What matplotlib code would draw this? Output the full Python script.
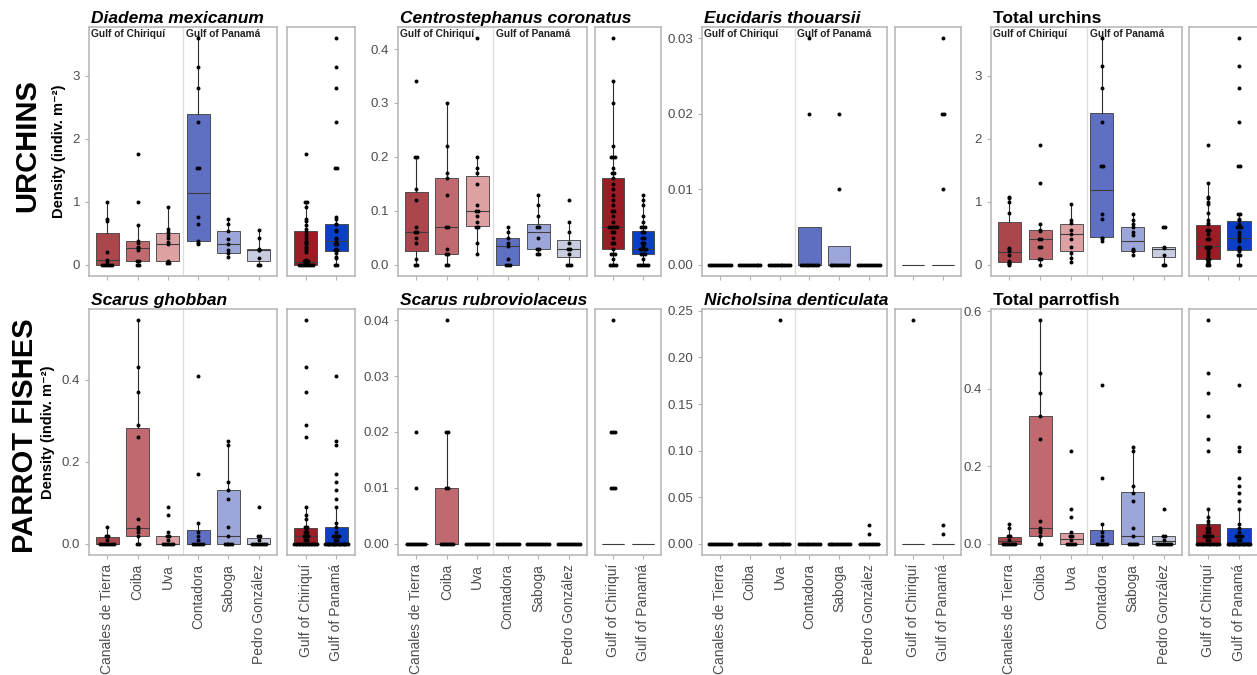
import matplotlib
matplotlib.use("Agg")
import matplotlib.pyplot as plt
import numpy as np

plt.rcParams["font.family"] = ["Liberation Sans", "DejaVu Sans"]

# ---------------------------------------------------------------- categories
sites = ["Canales de Tierra", "Coiba", "Uva", "Contadora", "Saboga", "Pedro González"]
gulfs = ["Gulf of Chiriquí", "Gulf of Panamá"]
site_colors = ["#a9474d", "#c06a70", "#dda1a4", "#5f6fc2", "#9da6d8", "#c8cce0"]
gulf_colors = ["#9c1c26", "#0b3fc6"]

# ---------------------------------------------------------------- observations (indiv. m-2) per site
diadema_obs = [
    [0.99, 0.72, 0.70, 0.20, 0.07, 0.05, 0, 0, 0, 0, 0, 0],
    [1.76, 0.99, 0.63, 0.37, 0.35, 0.28, 0.26, 0.24, 0.065, 0.065, 0, 0],
    [0.92, 0.56, 0.52, 0.47, 0.42, 0.36, 0.33, 0.065, 0.04, 0.02, 0.02],
    [3.59, 3.13, 2.81, 2.26, 1.54, 1.54, 0.76, 0.65, 0.37, 0.35, 0.33],
    [0.73, 0.64, 0.53, 0.40, 0.33, 0.24, 0.19, 0.12],
    [0.55, 0.42, 0.25, 0.24, 0.23, 0.11, 0, 0],
]
centro_obs = [
    [0.34, 0.20, 0.20, 0.14, 0.12, 0.07, 0.06, 0.06, 0.05, 0.04, 0.01, 0, 0],
    [0.30, 0.22, 0.17, 0.16, 0.13, 0.07, 0.07, 0.03, 0.02, 0.02, 0, 0],
    [0.42, 0.20, 0.18, 0.17, 0.15, 0.11, 0.10, 0.10, 0.09, 0.08, 0.07, 0.07, 0.04, 0.02],
    [0.07, 0.06, 0.05, 0.04, 0.035, 0.01, 0, 0, 0],
    [0.13, 0.11, 0.09, 0.07, 0.07, 0.05, 0.03, 0.03, 0.02, 0.02],
    [0.12, 0.08, 0.06, 0.04, 0.03, 0.03, 0.02, 0, 0, 0],
]
eucidaris_obs = [
    [0] * 12,
    [0] * 12,
    [0] * 12,
    [0.03, 0.02] + [0] * 10,
    [0.02, 0.01] + [0] * 10,
    [0] * 12,
]
urchins_obs = [
    [1.07, 1.06, 0.99, 0.82, 0.27, 0.25, 0.22, 0.15, 0.06, 0.03, 0.02, 0.01, 0],
    [1.90, 1.29, 0.65, 0.55, 0.53, 0.41, 0.41, 0.28, 0.28, 0.09, 0.09, 0],
    [0.96, 0.71, 0.66, 0.55, 0.48, 0.40, 0.28, 0.18, 0.11, 0.05],
    [3.59, 3.15, 2.80, 2.27, 1.57, 1.57, 0.80, 0.72, 0.43, 0.42, 0.37],
    [0.80, 0.71, 0.65, 0.59, 0.52, 0.47, 0.25, 0.24, 0.22, 0.16],
    [0.59, 0.59, 0.28, 0.27, 0.16, 0, 0],
]
ghobban_obs = [
    [0.04, 0.018, 0.018, 0.01] + [0] * 8,
    [0.545, 0.43, 0.37, 0.29, 0.26, 0.06, 0.04, 0.035, 0.03, 0.02, 0, 0],
    [0.09, 0.07, 0.03, 0.02, 0.02, 0.01] + [0] * 6,
    [0.41, 0.17, 0.05, 0.03, 0.02, 0.01] + [0] * 6,
    [0.25, 0.24, 0.15, 0.13, 0.11, 0.04, 0.02] + [0] * 5,
    [0.09, 0.02, 0.02, 0.01] + [0] * 8,
]
rubro_obs = [
    [0.02, 0.01] + [0] * 10,
    [0.04, 0.02, 0.02, 0.01, 0.01] + [0] * 7,
    [0] * 12,
    [0] * 12,
    [0] * 12,
    [0] * 12,
]
nicholsina_obs = [
    [0] * 12,
    [0] * 12,
    [0.24] + [0] * 11,
    [0] * 12,
    [0] * 12,
    [0.02, 0.01] + [0] * 10,
]
parrot_obs = [
    [0.05, 0.04, 0.02, 0.02, 0.01] + [0] * 7,
    [0.577, 0.44, 0.39, 0.33, 0.27, 0.06, 0.04, 0.035, 0.03, 0.02, 0, 0],
    [0.24, 0.09, 0.07, 0.03, 0.02, 0.02, 0.01] + [0] * 5,
    [0.41, 0.17, 0.05, 0.03, 0.02, 0.01] + [0] * 6,
    [0.25, 0.24, 0.15, 0.13, 0.11, 0.04, 0.02] + [0] * 5,
    [0.09, 0.02, 0.02, 0.01] + [0] * 8,
]

# ---------------------------------------------------------------- box summaries (whislo, q1, median, q3, whishi)
diadema_site_box = [(0, 0, 0.08, 0.51, 0.99), (0, 0.065, 0.26, 0.37, 0.63), (0.02, 0.065, 0.33, 0.51, 0.92),
                    (0.33, 0.37, 1.14, 2.39, 3.59), (0.12, 0.19, 0.33, 0.53, 0.73), (0, 0.065, 0.23, 0.245, 0.55)]
diadema_gulf_box = [(0, 0, 0.05, 0.54, 0.99), (0, 0.21, 0.37, 0.64, 0.75)]
centro_site_box = [(0, 0.025, 0.06, 0.135, 0.20), (0, 0.02, 0.07, 0.16, 0.30), (0.02, 0.072, 0.10, 0.165, 0.20),
                   (0, 0, 0.035, 0.05, 0.07), (0.02, 0.03, 0.06, 0.075, 0.13), (0, 0.015, 0.03, 0.045, 0.08)]
centro_gulf_box = [(0, 0.03, 0.07, 0.16, 0.34), (0, 0.02, 0.03, 0.062, 0.13)]
eucidaris_site_box = [(0, 0, 0, 0, 0), (0, 0, 0, 0, 0), (0, 0, 0, 0, 0),
                      (0, 0, 0, 0.005, 0.005), (0, 0, 0, 0.0025, 0.0025), (0, 0, 0, 0, 0)]
eucidaris_gulf_box = [(0, 0, 0, 0, 0), (0, 0, 0, 0, 0)]
urchins_site_box = [(0, 0.04, 0.20, 0.68, 1.07), (0, 0.09, 0.41, 0.55, 0.65), (0.05, 0.21, 0.48, 0.64, 0.96),
                    (0.37, 0.44, 1.19, 2.41, 3.59), (0.16, 0.22, 0.37, 0.59, 0.80), (0, 0.12, 0.25, 0.28, 0.28)]
urchins_gulf_box = [(0, 0.09, 0.29, 0.63, 1.29), (0, 0.24, 0.43, 0.70, 0.80)]
ghobban_site_box = [(0, 0, 0, 0.016, 0.04), (0, 0.019, 0.039, 0.283, 0.545), (0, 0, 0, 0.02, 0.03),
                    (0, 0, 0, 0.034, 0.05), (0, 0, 0.02, 0.131, 0.246), (0, 0, 0, 0.014, 0.02)]
ghobban_gulf_box = [(0, 0, 0.02, 0.039, 0.09), (0, 0, 0, 0.04, 0.09)]
rubro_site_box = [(0, 0, 0, 0, 0), (0, 0, 0, 0.01, 0.02), (0, 0, 0, 0, 0),
                  (0, 0, 0, 0, 0), (0, 0, 0, 0, 0), (0, 0, 0, 0, 0)]
rubro_gulf_box = [(0, 0, 0, 0, 0), (0, 0, 0, 0, 0)]
nicholsina_site_box = [(0, 0, 0, 0, 0)] * 6
nicholsina_gulf_box = [(0, 0, 0, 0, 0), (0, 0, 0, 0, 0)]
parrot_site_box = [(0, 0, 0.007, 0.017, 0.05), (0, 0.019, 0.042, 0.33, 0.577), (0, 0, 0.013, 0.029, 0.029),
                   (0, 0, 0, 0.035, 0.05), (0, 0, 0.02, 0.134, 0.25), (0, 0, 0.007, 0.02, 0.02)]
parrot_gulf_box = [(0, 0, 0.02, 0.052, 0.09), (0, 0, 0, 0.04, 0.09)]

# panel settings: title, italic, observations, boxes, y ticks, tick format, zeros drawn in gulf panel
panels = [
    ("Diadema mexicanum", True, diadema_obs, diadema_site_box, diadema_gulf_box, [0, 1, 2, 3], "{:.0f}", True),
    ("Centrostephanus coronatus", True, centro_obs, centro_site_box, centro_gulf_box,
     [0, 0.1, 0.2, 0.3, 0.4], "{:.1f}", True),
    ("Eucidaris thouarsii", True, eucidaris_obs, eucidaris_site_box, eucidaris_gulf_box,
     [0, 0.01, 0.02, 0.03], "{:.2f}", False),
    ("Total urchins", False, urchins_obs, urchins_site_box, urchins_gulf_box, [0, 1, 2, 3], "{:.0f}", True),
    ("Scarus ghobban", True, ghobban_obs, ghobban_site_box, ghobban_gulf_box, [0, 0.2, 0.4], "{:.1f}", True),
    ("Scarus rubroviolaceus", True, rubro_obs, rubro_site_box, rubro_gulf_box,
     [0, 0.01, 0.02, 0.03, 0.04], "{:.2f}", False),
    ("Nicholsina denticulata", True, nicholsina_obs, nicholsina_site_box, nicholsina_gulf_box,
     [0, 0.05, 0.10, 0.15, 0.20, 0.25], "{:.2f}", False),
    ("Total parrotfish", False, parrot_obs, parrot_site_box, parrot_gulf_box, [0, 0.2, 0.4, 0.6], "{:.1f}", True),
]

# ---------------------------------------------------------------- layout (pixels)
W, H = 1257, 675
rows_px = [(27, 276), (309, 555)]
cols_px = [(89, 277, 287, 355), (398, 587, 595, 661), (702, 887, 895, 961), (991, 1182, 1189, 1258)]

fig = plt.figure(figsize=(W / 100, H / 100), dpi=100)
fig.patch.set_facecolor("white")

SPINE = "#b4b4b4"
TICKC = "#4d4d4d"


def add_px_axes(l, r, t, b):
    return fig.add_axes([l / W, 1 - b / H, (r - l) / W, (b - t) / H])


def spread(vals, step=0.065, cap=0.72):
    vals = np.asarray(vals, dtype=float)
    offs = np.zeros(len(vals))
    for v in np.unique(vals):
        idx = np.where(vals == v)[0]
        n = len(idx)
        if n > 1:
            s = min(step, cap / (n - 1))
            offs[idx] = (np.arange(n) - (n - 1) / 2) * s
    return offs


def style_axes(ax, n, ymax, ticks, fmt, show_y, show_x, labels):
    ax.set_xlim(0.4, n + 0.6)
    ax.set_ylim(-0.05 * ymax, 1.05 * ymax)
    for s in ax.spines.values():
        s.set_color(SPINE)
        s.set_linewidth(1.1)
    ax.tick_params(axis="both", colors=SPINE, length=3, width=0.8, labelcolor=TICKC)
    ax.set_xticks(np.arange(1, n + 1))
    if show_x:
        ax.set_xticklabels(labels, rotation=90, fontsize=10)
    else:
        ax.set_xticklabels([])
    ax.set_yticks(ticks)
    if show_y:
        ax.set_yticklabels([fmt.format(t) for t in ticks], fontsize=9.5)
    else:
        ax.tick_params(axis="y", length=0)
        ax.set_yticklabels([])


def draw_boxes(ax, boxes, colors, obs_groups, show_zero=True):
    stats = []
    for (wl, q1, md, q3, wh) in boxes:
        stats.append(dict(whislo=wl, q1=q1, med=md, q3=q3, whishi=wh, fliers=[]))
    ax.bxp(stats, positions=np.arange(1, len(boxes) + 1), widths=0.75, patch_artist=True,
           showfliers=False, showcaps=False,
           boxprops=dict(edgecolor="#3d3d3d", linewidth=0.6),
           medianprops=dict(color="#3d3d3d", linewidth=0.8),
           whiskerprops=dict(color="#2d2d2d", linewidth=0.8))
    for patch, c in zip([p for p in ax.patches], colors):
        patch.set_facecolor(c)
    for i, vals in enumerate(obs_groups):
        vals = np.asarray(vals, dtype=float)
        if not show_zero:
            vals = vals[vals > 0]
        if len(vals) == 0:
            continue
        x = i + 1 + spread(vals)
        ax.scatter(x, vals, s=8, color="black", zorder=5, linewidths=0)


for k, (title, italic, obs, site_box, gulf_box, ticks, fmt, gulf_zero) in enumerate(panels):
    r, c = divmod(k, 4)
    t, b = rows_px[r]
    l1, r1, l2, r2 = cols_px[c]
    ymax = max(max(v) for v in obs)
    if ymax == 0:
        ymax = 1

    ax = add_px_axes(l1, r1, t, b)
    draw_boxes(ax, site_box, site_colors, obs)
    ax.axvline(3.5, color="#dcdcdc", linewidth=0.9, zorder=0)
    style_axes(ax, 6, ymax, ticks, fmt, True, r == 1, sites)
    ax.set_title(title, loc="left", fontsize=12.5, fontweight="bold",
                 fontstyle="italic" if italic else "normal", pad=3, x=0.012)
    if r == 0:
        strip_font = dict(fontsize=7.3, fontweight="bold", color="#222222",
                          va="top", ha="left")
        ax.text(0.47, 1.05 * ymax * 0.99, gulfs[0], **strip_font)
        ax.text(3.6, 1.05 * ymax * 0.99, gulfs[1], **strip_font)

    gulf_obs = [sum(obs[:3], []), sum(obs[3:], [])]
    ax2 = add_px_axes(l2, r2, t, b)
    draw_boxes(ax2, gulf_box, gulf_colors, gulf_obs, show_zero=gulf_zero)
    style_axes(ax2, 2, ymax, ticks, fmt, False, r == 1, gulfs)

    if c == 0:
        ax.set_ylabel("Density (indiv. m⁻²)", fontsize=10.5, fontweight="bold", labelpad=5)

fig.text(27 / W, 1 - 146 / H, "URCHINS", rotation=90, fontsize=21, fontweight="bold",
         ha="center", va="center")
fig.text(25 / W, 1 - 436 / H, "PARROT FISHES", rotation=90, fontsize=21, fontweight="bold",
         ha="center", va="center")

fig.savefig("out.png", dpi=100, facecolor="white")
